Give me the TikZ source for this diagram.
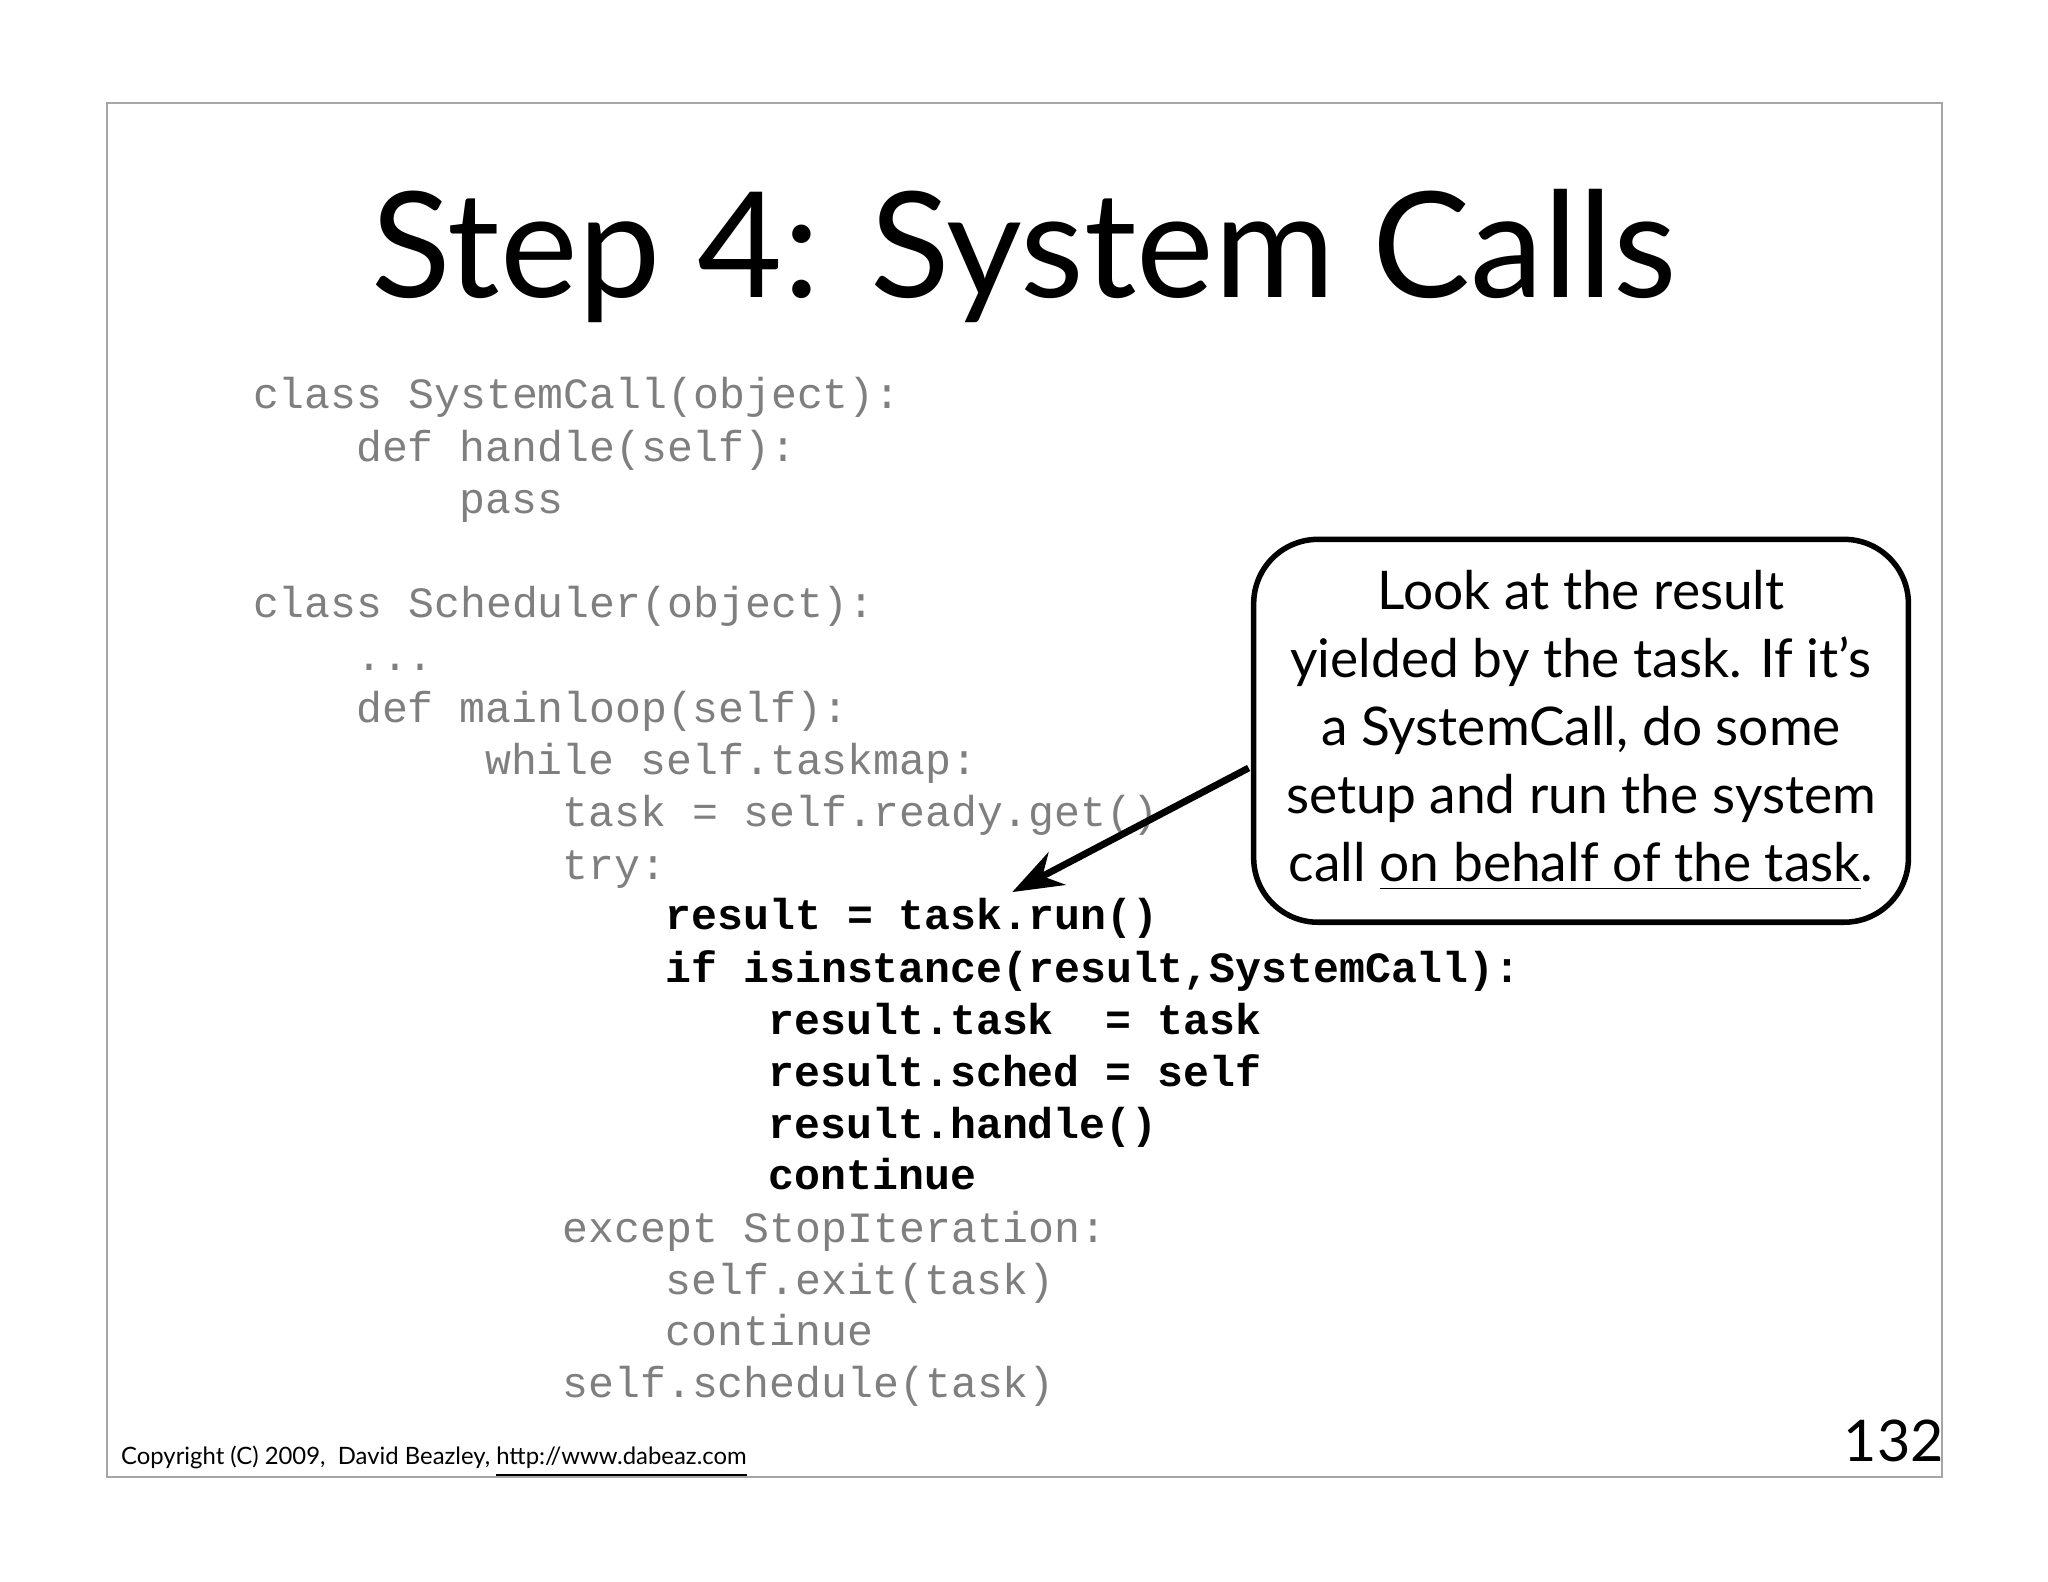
\documentclass[tikz,border=0pt]{standalone}
\usepackage{fontspec}
\setmainfont{Lato}
\setmonofont{Liberation Mono}
\usetikzlibrary{arrows.meta}
\definecolor{codegray}{HTML}{7F7F7F}
\begin{document}
\begin{tikzpicture}[x=0.01cm,y=-0.01cm,
  code/.style={anchor=base west,inner sep=0,font=\fontsize{9.4}{11}\ttfamily,text=codegray},
  hot/.style={code,text=black,font=\fontsize{9.4}{11}\ttfamily\bfseries}]
\useasboundingbox[fill=white] (0,0) rectangle (1568,1211);
\draw[gray!70,line width=0.4pt] (82,79) rectangle (1487,1131);
\node[font=\fontsize{32}{36}\selectfont,inner sep=0] (title) at (784,196) {Step 4: System Calls};
\def\cw{19.75}
\foreach \c/\y/\t [count=\i] in {
 0/313/{class SystemCall(object):},
 4/353/{def handle(self):},
 8/393/{pass},
 0/473/{class Scheduler(object):},
 4/513/{...},
 4/553/{def mainloop(self):},
 9/593/{while self.taskmap:},
 12/633/{task = self.ready.get()},
 12/673/{try:},
 12/951/{except StopIteration:},
 16/991/{self.exit(task)},
 16/1030/{continue},
 12/1070/{self.schedule(task)}}
  \node[code] (c\i) at (193+\c*\cw,\y) {\t};
\foreach \c/\y/\t [count=\i] in {
 16/712/{result = task.run()},
 16/752/{if isinstance(result,SystemCall):},
 20/792/{result.task\ \ = task},
 20/832/{result.sched = self},
 20/872/{result.handle()},
 20/911/{continue}}
  \node[hot] (h\i) at (193+\c*\cw,\y) {\t};
\node[draw,line width=1.2pt,rounded corners=14pt,
  minimum width=5.01cm,minimum height=2.93cm,
  inner sep=0,align=center,font=\fontsize{11.6}{14.8}\selectfont] (call) at (1210.5,559.5)
  {Look at the result\\yielded by the task. If it's\\a SystemCall, do some\\setup and run the system\\call \underline{on behalf of the task}.};
\coordinate (tip) at (775,683);
\coordinate (src) at (956,588);
\draw[line width=1.5pt,-{Stealth[length=11pt,width=8pt]}] (src) -- (tip);
\node[anchor=base west,inner sep=0,font=\fontsize{5.2}{6}\selectfont] (copy) at (92,1121) {Copyright (C) 2009,\ \ David Beazley, \underline{http://www.dabeaz.com}};
\node[anchor=base east,inner sep=0,font=\fontsize{12.5}{14}\selectfont] (num) at (1489,1119) {132};
\end{tikzpicture}
\end{document}
